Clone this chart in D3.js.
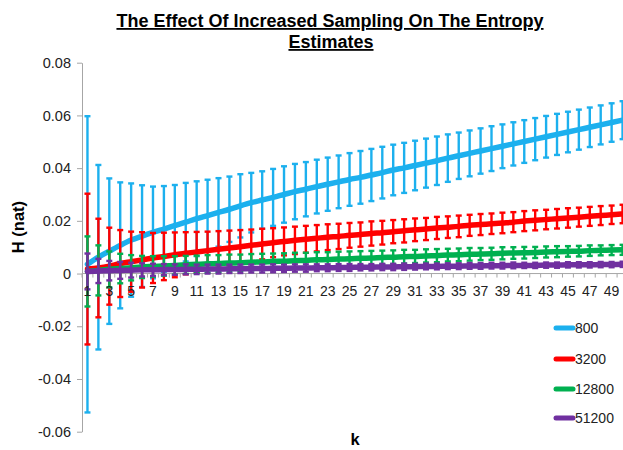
<!DOCTYPE html>
<html><head><meta charset="utf-8">
<script src="https://cdn.jsdelivr.net/npm/d3@7"></script>
<style>body{margin:0;background:#fff} svg{display:block}</style>
</head><body><svg id="c" width="623" height="450"></svg>
<script>
const categories = [1,2,3,4,5,6,7,8,9,10,11,12,13,14,15,16,17,18,19,20,21,22,23,24,25,26,27,28,29,30,31,32,33,34,35,36,37,38,39,40,41,42,43,44,45,46,47,48,49,50];
const xTickLabels = [1,3,5,7,9,11,13,15,17,19,21,23,25,27,29,31,33,35,37,39,41,43,45,47,49];
const yTickValues = [-0.06,-0.04,-0.02,0,0.02,0.04,0.06,0.08];
const yTickLabels = ["-0.06","-0.04","-0.02","0","0.02","0.04","0.06","0.08"];
const seriesNames = ["800","3200","12800","51200"];
const seriesColors = ["#1CB0EE","#FF0000","#00B050","#7030A0"];

const mean800 = [0.0035,0.0062,0.0085,0.0107,0.0127,0.0142,0.0156,0.0169,0.0182,0.0195,0.0208,0.0220,0.0232,0.0244,0.0257,0.0269,0.0279,0.0289,0.0300,0.0311,0.0320,0.0330,0.0339,0.0348,0.0357,0.0365,0.0374,0.0383,0.0393,0.0401,0.0410,0.0419,0.0428,0.0438,0.0447,0.0456,0.0465,0.0474,0.0483,0.0492,0.0501,0.0510,0.0519,0.0528,0.0537,0.0546,0.0555,0.0564,0.0573,0.0582];
const err800 = [0.0562,0.0350,0.0276,0.0239,0.0215,0.0193,0.0174,0.0163,0.0154,0.0149,0.0142,0.0136,0.0130,0.0124,0.0120,0.0113,0.0109,0.0108,0.0107,0.0105,0.0103,0.0102,0.0101,0.0100,0.0100,0.0100,0.0099,0.0098,0.0096,0.0095,0.0094,0.0093,0.0092,0.0090,0.0088,0.0087,0.0086,0.0085,0.0083,0.0082,0.0081,0.0080,0.0079,0.0078,0.0077,0.0076,0.0075,0.0074,0.0073,0.0072];
const mean3200 = [0.0017,0.0021,0.0028,0.0038,0.0045,0.0052,0.0059,0.0065,0.0071,0.0077,0.0082,0.0087,0.0092,0.0097,0.0102,0.0107,0.0112,0.0117,0.0122,0.0126,0.0130,0.0134,0.0138,0.0141,0.0145,0.0148,0.0152,0.0155,0.0159,0.0162,0.0166,0.0169,0.0173,0.0176,0.0179,0.0183,0.0186,0.0189,0.0192,0.0195,0.0199,0.0202,0.0205,0.0208,0.0211,0.0214,0.0217,0.0220,0.0223,0.0226];
const err3200 = [0.0286,0.0187,0.0146,0.0127,0.0114,0.0105,0.0095,0.0090,0.0085,0.0080,0.0076,0.0072,0.0069,0.0066,0.0063,0.0060,0.0058,0.0055,0.0053,0.0052,0.0051,0.0050,0.0049,0.0048,0.0047,0.0046,0.0046,0.0045,0.0044,0.0044,0.0043,0.0042,0.0042,0.0041,0.0041,0.0040,0.0040,0.0039,0.0039,0.0038,0.0038,0.0038,0.0037,0.0037,0.0037,0.0036,0.0036,0.0036,0.0035,0.0035];
const mean12800 = [0.0008,0.0012,0.0016,0.0019,0.0022,0.0025,0.0027,0.0029,0.0031,0.0033,0.0035,0.0037,0.0038,0.0040,0.0041,0.0043,0.0044,0.0046,0.0047,0.0049,0.0050,0.0052,0.0053,0.0055,0.0056,0.0058,0.0059,0.0061,0.0062,0.0064,0.0065,0.0067,0.0068,0.0070,0.0071,0.0073,0.0074,0.0075,0.0077,0.0078,0.0079,0.0080,0.0082,0.0083,0.0084,0.0085,0.0087,0.0088,0.0089,0.0090];
const err12800 = [0.0133,0.0095,0.0068,0.0056,0.0048,0.0042,0.0039,0.0037,0.0035,0.0034,0.0033,0.0033,0.0032,0.0032,0.0031,0.0031,0.0031,0.0030,0.0030,0.0030,0.0029,0.0029,0.0028,0.0028,0.0028,0.0027,0.0027,0.0026,0.0026,0.0026,0.0025,0.0025,0.0025,0.0024,0.0024,0.0024,0.0023,0.0023,0.0023,0.0022,0.0022,0.0021,0.0021,0.0021,0.0020,0.0020,0.0020,0.0019,0.0019,0.0019];
const mean51200 = [0.0008,0.0010,0.0011,0.0012,0.0013,0.0014,0.0014,0.0015,0.0015,0.0016,0.0016,0.0017,0.0017,0.0018,0.0018,0.0019,0.0019,0.0020,0.0020,0.0021,0.0021,0.0022,0.0022,0.0023,0.0023,0.0024,0.0024,0.0025,0.0025,0.0026,0.0026,0.0027,0.0027,0.0028,0.0028,0.0029,0.0029,0.0030,0.0030,0.0031,0.0031,0.0031,0.0032,0.0032,0.0033,0.0033,0.0033,0.0034,0.0034,0.0035];
const err51200 = [0.0068,0.0046,0.0037,0.0032,0.0028,0.0025,0.0023,0.0021,0.0020,0.0019,0.0018,0.0017,0.0017,0.0016,0.0016,0.0015,0.0015,0.0015,0.0014,0.0014,0.0014,0.0013,0.0013,0.0013,0.0013,0.0012,0.0012,0.0012,0.0012,0.0012,0.0011,0.0011,0.0011,0.0011,0.0011,0.0011,0.0011,0.0011,0.0011,0.0011,0.0010,0.0010,0.0010,0.0010,0.0010,0.0010,0.0010,0.0010,0.0010,0.0010];

const seriesMeans = [mean800, mean3200, mean12800, mean51200];
const seriesErrs = [err800, err3200, err12800, err51200];

const FONT = "'Liberation Sans', Arial, sans-serif";
const svg = d3.select("#c");

const x = d3.scaleBand().domain(categories).range([82, 628]).padding(0);
const y = d3.scaleLinear().domain([-0.06, 0.08]).range([431.7, 62.7]);
const cx = k => x(k) + x.bandwidth() / 2;

// Y axis
const yAxis = svg.append("g").attr("transform", "translate(82,0)")
  .call(d3.axisLeft(y).tickValues(yTickValues).tickFormat((d, i) => yTickLabels[i])
    .tickSize(5).tickSizeOuter(0).tickPadding(6));
yAxis.select(".domain").attr("stroke", "#a6a6a6");
yAxis.selectAll(".tick line").attr("stroke", "#a6a6a6");
yAxis.selectAll(".tick text").attr("font-family", FONT).attr("font-size", 14.5).attr("fill", "#222");

// X axis
const xg = svg.append("g").attr("transform", `translate(0,${y(0)})`);
xg.append("line").attr("x1", x.range()[0]).attr("x2", x.range()[1]).attr("stroke", "#a6a6a6");
xg.selectAll("line.tk").data(categories.concat(["end"])).join("line").attr("class", "tk")
  .attr("x1", d => d === "end" ? x.range()[1] : x(d)).attr("x2", d => d === "end" ? x.range()[1] : x(d))
  .attr("y1", 0).attr("y2", 4).attr("stroke", "#a6a6a6");

// Series: error bars then line
const capW = 3;
const lineGen = d3.line().curve(d3.curveMonotoneX);
seriesNames.forEach((name, si) => {
  const col = seriesColors[si];
  const m = seriesMeans[si], e = seriesErrs[si];
  const g = svg.append("g");
  const pts = categories.map((k, i) => ({ k, m: m[i], e: e[i] }));
  g.selectAll("line.eb").data(pts).join("line").attr("class", "eb")
    .attr("x1", d => cx(d.k)).attr("x2", d => cx(d.k))
    .attr("y1", d => y(d.m - d.e)).attr("y2", d => y(d.m + d.e))
    .attr("stroke", col).attr("stroke-width", 2.4);
  ["top", "bot"].forEach(which => {
    g.selectAll("line.cap" + which).data(pts).join("line").attr("class", "cap" + which)
      .attr("x1", d => cx(d.k) - capW).attr("x2", d => cx(d.k) + capW)
      .attr("y1", d => y(which === "top" ? d.m + d.e : d.m - d.e))
      .attr("y2", d => y(which === "top" ? d.m + d.e : d.m - d.e))
      .attr("stroke", col).attr("stroke-width", 2.4);
  });
  g.append("path").attr("d", lineGen(pts.map(d => [cx(d.k), y(d.m)])))
    .attr("fill", "none").attr("stroke", col).attr("stroke-width", 5.5)
    .attr("stroke-linecap", "round").attr("stroke-linejoin", "round");
});

// X tick labels (drawn over marks)
const xLab = svg.append("g").attr("transform", `translate(0,${y(0)})`)
  .call(d3.axisBottom(x).tickValues(xTickLabels).tickSize(0).tickPadding(13));
xLab.select(".domain").remove();
xLab.selectAll(".tick text").attr("font-family", FONT).attr("font-size", 14).attr("fill", "#222");

// Title
const title = svg.append("g").attr("font-family", FONT).attr("font-weight", "bold")
  .attr("font-size", 18).attr("text-anchor", "middle").attr("fill", "#000");
title.append("text").attr("x", 330).attr("y", 27).attr("text-decoration", "underline")
  .text("The Effect Of Increased Sampling On The Entropy");
title.append("text").attr("x", 331).attr("y", 48).attr("text-decoration", "underline")
  .text("Estimates");

// Axis titles
svg.append("text").attr("x", 355).attr("y", 445).attr("text-anchor", "middle")
  .attr("font-family", FONT).attr("font-weight", "bold").attr("font-size", 16.5).text("k");
svg.append("text").attr("transform", "translate(24,227) rotate(-90)").attr("text-anchor", "middle")
  .attr("font-family", FONT).attr("font-weight", "bold").attr("font-size", 16.5).text("H (nat)");

// Legend
const legY = [328, 359, 389, 418];
const leg = svg.append("g");
seriesNames.forEach((name, i) => {
  leg.append("line").attr("x1", 556).attr("x2", 573).attr("y1", legY[i]).attr("y2", legY[i])
    .attr("stroke", seriesColors[i]).attr("stroke-width", 5).attr("stroke-linecap", "round");
  leg.append("text").attr("x", 575).attr("y", legY[i] + 5)
    .attr("font-family", FONT).attr("font-size", 14).attr("fill", "#222").text(name);
});
</script></body></html>
